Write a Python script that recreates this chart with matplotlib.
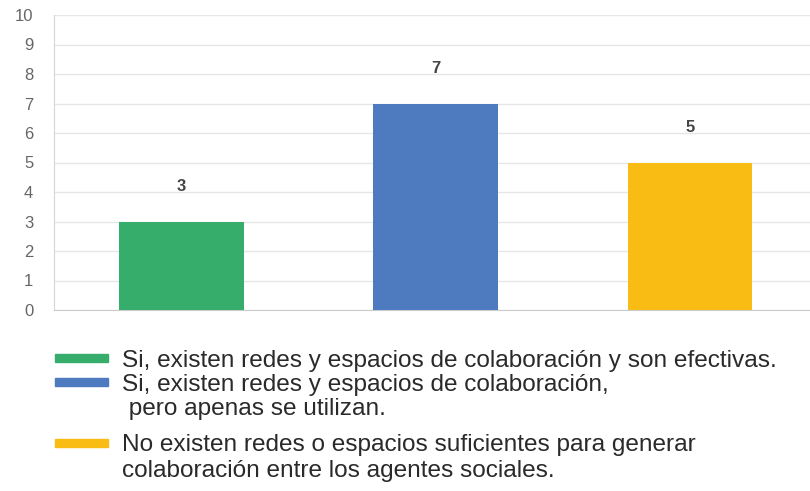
import matplotlib
matplotlib.use("Agg")
import matplotlib.pyplot as plt
from matplotlib.patches import Rectangle

categories = [
    "Si, existen redes y espacios de colaboración y son efectivas.",
    "Si, existen redes y espacios de colaboración,\n pero apenas se utilizan.",
    "No existen redes o espacios suficientes para generar\ncolaboración entre los agentes sociales.",
]
values = [3, 7, 5]
colors = ["#37AD6B", "#4E7AC0", "#F9BC15"]
yticks = list(range(0, 11))

plt.rcParams['font.family'] = ['Liberation Sans', 'DejaVu Sans']

W, H = 810, 491
fig = plt.figure(figsize=(W / 100, H / 100), dpi=100)
ax = fig.add_axes([54 / W, 1 - 310 / H, 1 - 54 / W, (310 - 15) / H])

x = list(range(len(values)))
ax.bar(x, values, width=0.49, color=colors, zorder=3)
for xi, v in zip(x, values):
    ax.annotate(str(v), (xi, v), xytext=(0, 20), textcoords="offset points",
                ha="center", va="bottom", fontsize=12, fontweight="bold", color="#444444")

ax.set_xlim(-0.5, 2.472)
ax.set_ylim(0, 10)
ax.set_yticks(yticks)
ax.set_yticklabels([str(t) for t in yticks], fontsize=12, color="#666666")
ax.tick_params(axis="y", length=0, pad=15)
ax.set_xticks([])
ax.grid(axis="y", color="#E6E6E6", linewidth=1, zorder=0)
for s in ["top", "right"]:
    ax.spines[s].set_visible(False)
ax.spines["left"].set_color("#D5D5D5")
ax.spines["bottom"].set_color("#CCCCCC")

# legend
line_h = 25
y_pos = [358, 382, 443]
for lab, col, yp in zip(categories, colors, y_pos):
    fig.patches.append(Rectangle((55 / W, 1 - (yp + 4) / H), 53 / W, 8 / H,
                                 transform=fig.transFigure, color=col))
    for i, ln in enumerate(lab.split("\n")):
        fig.text(122 / W, 1 - (yp + i * line_h) / H, ln, ha="left", va="center_baseline",
                 fontsize=17.55, color="#2A2A2A")

fig.savefig("out.png", dpi=100)
